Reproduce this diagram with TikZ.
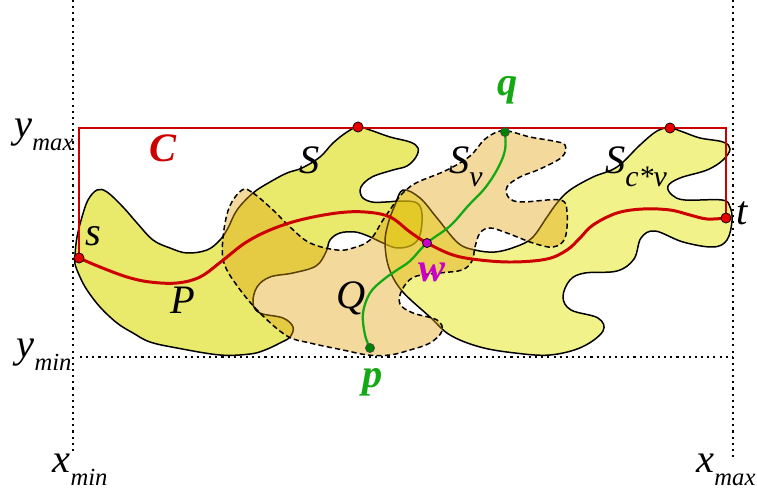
\documentclass[tikz,border=0pt]{standalone}
\usepackage{fontspec}
\setmainfont{Liberation Serif}
\usetikzlibrary{positioning}

\definecolor{blobS}{RGB}{233,233,107}
\definecolor{blobT}{RGB}{227,231,21}
\definecolor{blobQ}{RGB}{225,160,7}
\definecolor{pathred}{RGB}{204,0,0}
\definecolor{pathgreen}{RGB}{20,168,20}
\definecolor{wmag}{RGB}{200,0,200}

% label with lowered index
\newcommand{\lblidx}[2]{#1\raisebox{-0.32em}{\fontsize{14}{14}\selectfont #2}}

\begin{document}
\begin{tikzpicture}[x=0.02cm, y=-0.02cm,
  lbl/.style={font=\fontsize{23}{26}\selectfont\itshape, inner sep=0pt},
  bold lbl/.style={lbl, font=\fontsize{23}{26}\selectfont\bfseries\itshape},
  outline/.style={draw=black, line width=0.85pt},
  dotline/.style={line width=1.2pt, dash pattern=on 1.2pt off 2.3pt},
  reddot/.style={circle, draw=black, line width=0.4pt, fill=red!90!black,
    inner sep=0pt, minimum size=5.8pt},
  greendot/.style={circle, draw=black!70, line width=0.4pt, fill=green!50!black,
    inner sep=0pt, minimum size=5.2pt},
  magdot/.style={circle, draw=black, line width=0.4pt, fill=wmag,
    inner sep=0pt, minimum size=5.2pt}]
  \useasboundingbox (0,0) rectangle (757,496);

  % frame lines
  \coordinate (xl0) at (73,0);    \coordinate (xl1) at (73,452);
  \coordinate (xr0) at (733,0);   \coordinate (xr1) at (733,458);
  \coordinate (yl0) at (80,357);  \coordinate (yl1) at (733,357);
  \draw[dotline] (xl0) -- (xl1);
  \draw[dotline] (xr0) -- (xr1);
  \draw[dotline] (yl0) -- (yl1);

  % component S
  \filldraw[outline, fill=blobS] plot[smooth cycle, tension=0.6] coordinates {
    (75,255) (77,237) (82,217) (88,200) (97,190) (107,192) (123,207)
    (137,223) (153,240) (170,248) (187,253) (207,250) (220,240) (228,228)
    (237,210) (253,193) (270,182) (287,173) (302,168) (320,157) (333,143)
    (347,132) (358,127) (370,130) (390,137) (410,142) (418,148) (416,157)
    (407,166) (393,170) (372,177) (361,187) (362,197) (372,202) (386,202)
    (402,201) (417,203) (422,214) (420,235) (412,245) (397,248) (383,243)
    (368,236) (355,232) (340,233) (330,240) (326,252) (316,266) (293,273)
    (270,277) (257,287) (253,303) (260,313) (283,318) (293,327) (290,337)
    (280,343) (265,350) (250,354) (220,355) (177,348) (150,342) (133,333)
    (117,323) (100,307) (87,290) (80,277) (75,264)};

  % component S_{c*v}
  \filldraw[outline, fill=blobT, fill opacity=0.5] plot[smooth cycle, tension=0.6] coordinates {
    (403,190) (420,198) (437,218) (458,243) (475,250) (495,252) (515,247)
    (532,238) (547,217) (557,203) (570,190) (593,177) (617,167) (640,145)
    (657,131) (670,128) (683,132) (700,138) (723,142) (730,149) (723,160)
    (707,170) (680,178) (668,186) (672,195) (685,200) (722,200) (730,207)
    (732,221) (727,240) (713,247) (683,242) (655,231) (641,238) (634,259)
    (617,271) (585,273) (570,280) (563,297) (571,310) (598,318) (603,331)
    (582,347) (550,355) (515,353) (480,347) (450,335) (430,317) (402,291)
    (389,268) (385,243) (388,224) (395,205)};

  % component Q and S_v
  \filldraw[outline, dashed, dash pattern=on 3pt off 1.8pt, fill=blobQ, fill opacity=0.4]
    plot[smooth cycle, tension=0.6] coordinates {
    (242,190) (253,193) (273,210) (290,227) (310,243) (337,250) (353,248)
    (370,240) (383,220) (397,200) (406,190) (418,182) (447,170) (470,156)
    (484,140) (497,132) (508,131) (530,137) (553,141) (565,145) (562,157)
    (540,169) (520,177) (507,187) (509,198) (522,202) (560,200) (567,212)
    (565,238) (553,247) (533,243) (507,233) (490,228) (480,233) (475,247)
    (472,261) (462,270) (440,273) (414,277) (402,290) (400,304) (413,313)
    (437,320) (442,331) (430,343) (410,350) (390,355) (368,355) (343,350)
    (310,343) (287,336) (260,313) (238,287) (224,263) (223,238) (229,208)};

  % points
  \coordinate (s) at (79,258);
  \coordinate (t) at (726,218);
  \coordinate (w) at (427,243);
  \coordinate (p) at (370,348);
  \coordinate (q) at (505,132);
  \coordinate (ctl) at (79,128);
  \coordinate (ctr) at (726,128);

  % cycle C
  \draw[pathred, line width=1.6pt, line join=miter] (s) -- (ctl) -- (ctr) -- (t);

  % path P
  \draw[pathred, line width=1.7pt] plot[smooth, tension=0.6] coordinates {
    (s) (100,267) (127,277) (150,282) (177,283) (200,277) (222,261)
    (245,243) (270,230) (300,220) (337,213) (365,212) (390,217)
    (410,232) (w) (453,255) (480,260) (513,262) (547,259) (567,250)
    (580,238) (593,225) (617,213) (643,209) (670,210) (690,215)
    (707,219) (t)};

  % path from p to q
  \draw[pathgreen, line width=1.3pt] plot[smooth, tension=0.6] coordinates {
    (p) (365,335) (363,313) (370,293) (383,280) (397,270) (410,261)
    (w) (450,226) (468,206) (485,188) (498,168) (505,150) (q)};

  \node[reddot] (sdot) at (s) {};
  \node[reddot] (tdot) at (t) {};
  \node[reddot] (c1dot) at (358,127) {};
  \node[reddot] (c2dot) at (670,128) {};
  \node[greendot] (pdot) at (p) {};
  \node[greendot] (qdot) at (q) {};
  \node[magdot] (wdot) at (w) {};

  % labels
  \node[lbl] (ymaxlbl) at (44,135) {\lblidx{y}{max}};
  \node[lbl] (yminlbl) at (44,355) {\lblidx{y}{min}};
  \node[lbl] (xminlbl) at (80,470) {\lblidx{x}{min}};
  \node[lbl] (xmaxlbl) at (726,470) {\lblidx{x}{max}};
  \node[bold lbl, text=pathred] (clbl) at (163,148) {C};
  \node[lbl] (Slbl) at (310,160) {S};
  \node[lbl] (Svlbl) at (466,167) {\lblidx{S}{\fontsize{17}{17}\selectfont v}};
  \node[lbl] (Sclbl) at (636,167) {\lblidx{S}{\fontsize{17}{17}\selectfont c*v}};
  \node[lbl] (slbl) at (93,236) {s};
  \node[lbl] (tlbl) at (742,213) {t};
  \node[lbl] (Plbl) at (183,300) {P};
  \node[lbl] (Qlbl) at (351,298) {Q};
  \node[bold lbl, text=wmag] (wlbl) at (432,272) {w};
  \node[bold lbl, text=pathgreen] (qlbl) at (508,90) {q};
  \node[bold lbl, text=pathgreen] (plbl) at (373,382) {p};
\end{tikzpicture}
\end{document}
